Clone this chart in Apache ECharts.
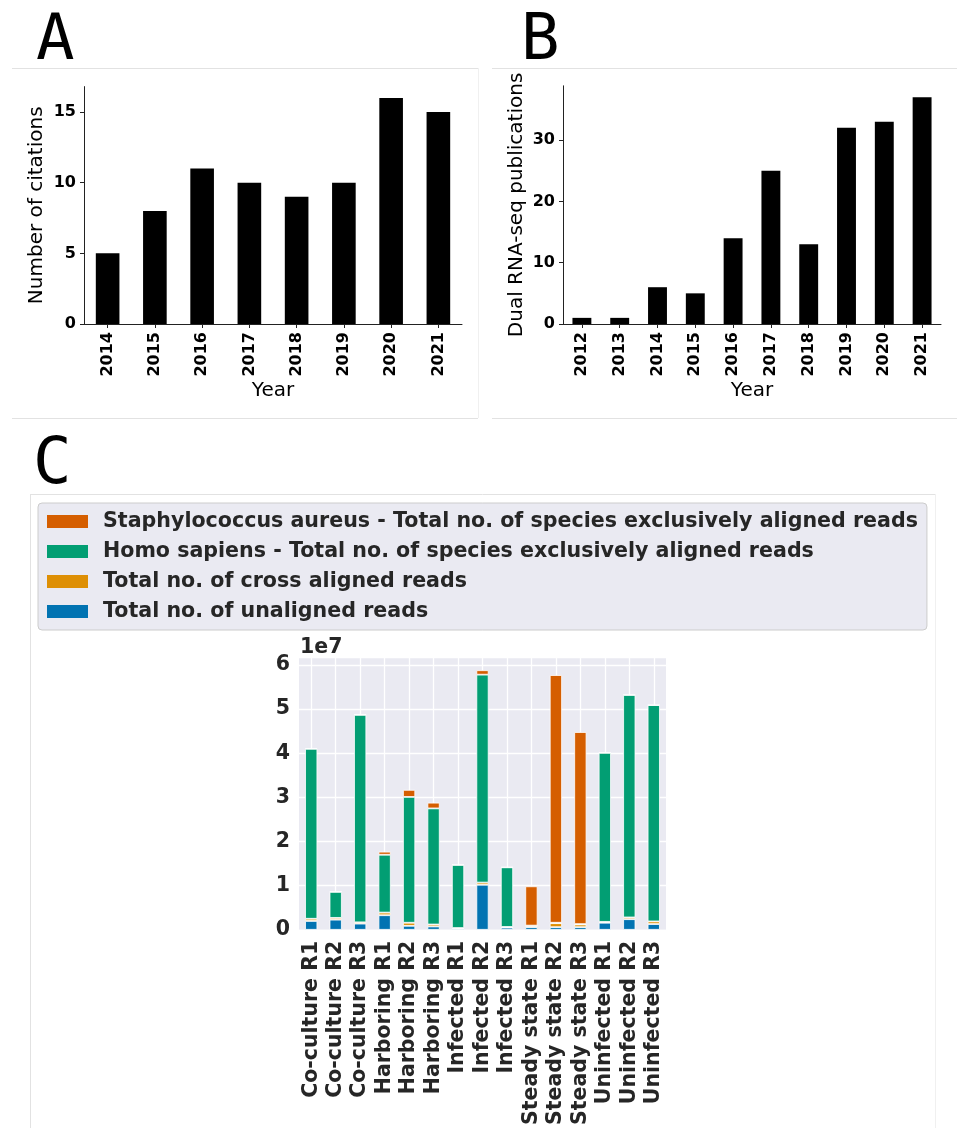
<!DOCTYPE html>
<html><head><meta charset="utf-8">
<script src="https://cdn.jsdelivr.net/npm/echarts@6/dist/echarts.min.js"></script>
<style>html,body{margin:0;padding:0;background:#fff}#c{width:957px;height:1128px}</style>
</head><body><div id="c"></div>
<script>
// Panel A
const yearsA = ['2014','2015','2016','2017','2018','2019','2020','2021'];
const citations = [5, 8, 11, 10, 9, 10, 16, 15];
// Panel B
const yearsB = ['2012','2013','2014','2015','2016','2017','2018','2019','2020','2021'];
const publications = [1, 1, 6, 5, 14, 25, 13, 32, 33, 37];
// Panel C (values in millions of reads; axis shown in units of 1e7)
const samples = ['Co-culture R1','Co-culture R2','Co-culture R3','Harboring R1','Harboring R2','Harboring R3',
  'Infected R1','Infected R2','Infected R3','Steady state R1','Steady state R2','Steady state R3',
  'Uninfected R1','Uninfected R2','Uninfected R3'];
const unaligned   = [2.0, 2.3, 1.4, 3.3, 0.9, 0.75, 0.3, 10.2, 0.5, 0.6, 0.6, 0.6, 1.6, 2.4, 1.3];
const crossAligned= [0.5, 0.4, 0.3, 0.6, 0.7, 0.45, 0.1, 0.5, 0.15, 0.3, 0.9, 0.6, 0.2, 0.4, 0.6];
const homoSapiens = [38.5, 5.9, 47.0, 13.1, 28.5, 26.3, 14.3, 47.1, 13.5, 0.05, 0.1, 0.1, 38.3, 50.4, 49.0];
const staphAureus = [0.1, 0.05, 0.05, 0.7, 1.6, 1.3, 0.05, 1.0, 0.05, 8.9, 56.1, 43.5, 0.05, 0.05, 0.05];
const nameStaph = 'Staphylococcus aureus - Total no. of species exclusively aligned reads';
const nameHomo = 'Homo sapiens - Total no. of species exclusively aligned reads';
const nameCross = 'Total no. of cross aligned reads';
const nameUn = 'Total no. of unaligned reads';

const F = 'DejaVu Sans';
const chart = echarts.init(document.getElementById('c'), null, {renderer:'canvas'});
const tickLbl = {fontFamily:F,fontSize:16,fontWeight:'bold',color:'#000'};
const baseAxis = () => ({
  nameTextStyle:{fontFamily:F,fontSize:20,color:'#000'},
  axisLine:{show:true,lineStyle:{color:'#222',width:1}},
  splitLine:{show:false}
});
const frame = '#e2e2e2';
chart.setOption({
  animation:false,
  backgroundColor:'#fff',
  grid:[
    {left:84, top:86.6, width:378, height:237.4},
    {left:563, top:85.8, width:378, height:238.2},
    {left:299, top:657, width:367, height:274, show:true, backgroundColor:'#eaeaf2', borderWidth:0}
  ],
  xAxis:[
    Object.assign(baseAxis(), {type:'category', gridIndex:0, data:yearsA, name:'Year', nameLocation:'middle', nameGap:57,
      axisTick:{show:true,length:4,alignWithLabel:true,lineStyle:{color:'#222'}},
      axisLabel:Object.assign({rotate:90,margin:8}, tickLbl)}),
    Object.assign(baseAxis(), {type:'category', gridIndex:1, data:yearsB, name:'Year', nameLocation:'middle', nameGap:57,
      axisTick:{show:true,length:4,alignWithLabel:true,lineStyle:{color:'#222'}},
      axisLabel:Object.assign({rotate:90,margin:8}, tickLbl)}),
    {type:'category', gridIndex:2, data:samples,
      axisLine:{show:false},
      axisTick:{show:true,inside:true,length:274,alignWithLabel:true,lineStyle:{color:'#fff',width:1.3}},
      axisLabel:{fontFamily:F,fontSize:20.5,fontWeight:'bold',color:'#262626',rotate:90,margin:11,interval:0},
      splitLine:{show:false}}
  ],
  yAxis:[
    Object.assign(baseAxis(), {type:'value', gridIndex:0, min:0, max:16.8, interval:5, name:'Number of citations',
      nameLocation:'middle', nameGap:37, nameRotate:90,
      axisTick:{show:true,length:4,lineStyle:{color:'#222'}},
      axisLabel:Object.assign({showMaxLabel:false,margin:8}, tickLbl)}),
    Object.assign(baseAxis(), {type:'value', gridIndex:1, min:0, max:38.85, interval:10, name:'Dual RNA-seq publications',
      nameLocation:'middle', nameGap:36, nameRotate:90,
      axisTick:{show:true,length:4,lineStyle:{color:'#222'}},
      axisLabel:Object.assign({showMaxLabel:false,margin:8}, tickLbl)}),
    {type:'value', gridIndex:2, min:0, max:61.8, interval:10,
      axisLine:{show:false}, axisTick:{show:false},
      axisLabel:{fontFamily:F,fontSize:20.5,fontWeight:'bold',color:'#262626',showMaxLabel:false,margin:9,
        formatter:v => String(Math.round(v/10))},
      splitLine:{show:true,lineStyle:{color:'#fff',width:1.3}}}
  ],
  legend:{
    data:[nameStaph,nameHomo,nameCross,nameUn],
    orient:'vertical', left:38, top:503,
    padding:[8,9,8,9], itemGap:9, itemWidth:41, itemHeight:13,
    backgroundColor:'#eaeaf2', borderColor:'#cccccc', borderWidth:1, borderRadius:4,
    icon:'rect', itemStyle:{borderWidth:0},
    textStyle:{fontFamily:F,fontSize:20.6,fontWeight:'bold',color:'#262626',lineHeight:21, padding:[0,0,0,10]},
    selectedMode:false
  },
  graphic:[
    {type:'text', left:36, top:10, style:{text:'A', font:'64px "DejaVu Sans Mono"', fill:'#000'}},
    {type:'text', left:521, top:10, style:{text:'B', font:'64px "DejaVu Sans Mono"', fill:'#000'}},
    {type:'text', left:33, top:434, style:{text:'C', font:'64px "DejaVu Sans Mono"', fill:'#000'}},
    {type:'text', left:300, top:637, style:{text:'1e7', font:'bold 20.5px "DejaVu Sans"', fill:'#262626'}},
    {type:'line', shape:{x1:12,y1:68.5,x2:478,y2:68.5}, style:{stroke:frame,lineWidth:1}},
    {type:'line', shape:{x1:12,y1:418.5,x2:478,y2:418.5}, style:{stroke:frame,lineWidth:1}},
    {type:'line', shape:{x1:478.5,y1:68,x2:478.5,y2:418}, style:{stroke:'#f0f0f0',lineWidth:1}},
    {type:'line', shape:{x1:492,y1:68.5,x2:957,y2:68.5}, style:{stroke:frame,lineWidth:1}},
    {type:'line', shape:{x1:492,y1:418.5,x2:957,y2:418.5}, style:{stroke:frame,lineWidth:1}},
    {type:'line', shape:{x1:30,y1:494.5,x2:935,y2:494.5}, style:{stroke:frame,lineWidth:1}},
    {type:'line', shape:{x1:30.5,y1:494,x2:30.5,y2:1128}, style:{stroke:frame,lineWidth:1}},
    {type:'line', shape:{x1:935.5,y1:494,x2:935.5,y2:1128}, style:{stroke:'#f0f0f0',lineWidth:1}}
  ],
  series:[
    {type:'bar', xAxisIndex:0, yAxisIndex:0, data:citations, barWidth:'50%', itemStyle:{color:'#000'}},
    {type:'bar', xAxisIndex:1, yAxisIndex:1, data:publications, barWidth:'50%', itemStyle:{color:'#000'}},
    {type:'bar', name:nameUn, xAxisIndex:2, yAxisIndex:2, stack:'c', data:unaligned, barWidth:'50%',
      itemStyle:{color:'#0173b2', borderColor:'#fff', borderWidth:0.8}},
    {type:'bar', name:nameCross, xAxisIndex:2, yAxisIndex:2, stack:'c', data:crossAligned, barWidth:'50%',
      itemStyle:{color:'#de8f05', borderColor:'#fff', borderWidth:0.8}},
    {type:'bar', name:nameHomo, xAxisIndex:2, yAxisIndex:2, stack:'c', data:homoSapiens, barWidth:'50%',
      itemStyle:{color:'#029e73', borderColor:'#fff', borderWidth:0.8}},
    {type:'bar', name:nameStaph, xAxisIndex:2, yAxisIndex:2, stack:'c', data:staphAureus, barWidth:'50%',
      itemStyle:{color:'#d55e00', borderColor:'#fff', borderWidth:0.8}}
  ]
});
</script></body></html>
